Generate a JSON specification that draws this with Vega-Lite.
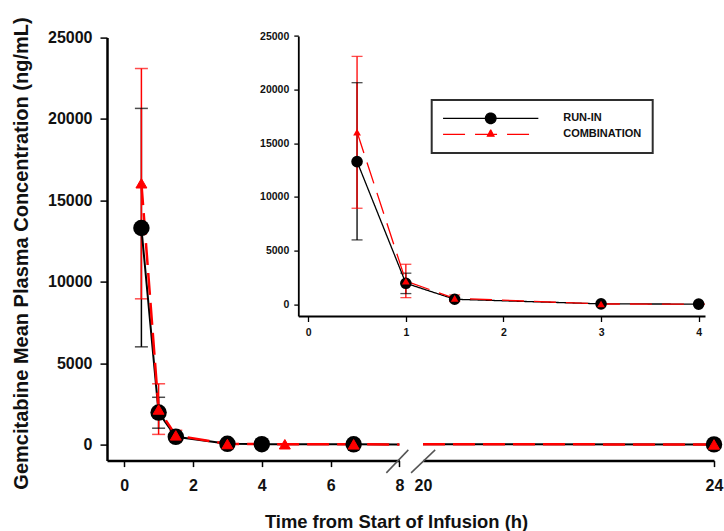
{
  "$schema": "https://vega.github.io/schema/vega-lite/v6.json",
  "width": 607,
  "height": 423,
  "autosize": {"type": "none"},
  "padding": {"left": 107, "top": 37.6, "right": 10, "bottom": 70.4},
  "background": "white",
  "config": {
    "font": "Liberation Sans",
    "view": {"stroke": null},
    "axis": {
      "grid": false,
      "labelFont": "Liberation Sans",
      "titleFont": "Liberation Sans",
      "labelFontWeight": "bold",
      "titleFontWeight": "bold",
      "labelColor": "#111111",
      "titleColor": "#111111",
      "domainColor": "#000000",
      "tickColor": "#000000",
      "labelFlush": false,
      "labelOverlap": false
    }
  },
  "data": {
    "values": [
      {"group": "RUN-IN", "time": 0.5, "conc": 13300, "lo": 6000, "hi": 20650},
      {"group": "RUN-IN", "time": 1, "conc": 1960, "lo": 1000, "hi": 2900},
      {"group": "RUN-IN", "time": 1.5, "conc": 470, "lo": 300, "hi": 640},
      {"group": "RUN-IN", "time": 3, "conc": 40},
      {"group": "RUN-IN", "time": 4, "conc": 20},
      {"group": "RUN-IN", "time": 6.67, "conc": 10},
      {"group": "RUN-IN", "time": 24, "conc": 5},
      {"group": "COMBINATION", "time": 0.5, "conc": 16050, "lo": 8950, "hi": 23100},
      {"group": "COMBINATION", "time": 1, "conc": 2150, "lo": 620, "hi": 3730},
      {"group": "COMBINATION", "time": 1.5, "conc": 560, "lo": 250, "hi": 870},
      {"group": "COMBINATION", "time": 3, "conc": 30},
      {"group": "COMBINATION", "time": 4.67, "conc": 15},
      {"group": "COMBINATION", "time": 6.67, "conc": 10},
      {"group": "COMBINATION", "time": 24, "conc": 5}
    ]
  },
  "layer": [
    {
      "encoding": {
        "x": {
          "field": "time", "type": "quantitative",
          "scale": {"domain": [-0.5, 8], "range": [0, 292.4], "clamp": true, "nice": false, "zero": false},
          "axis": {
            "orient": "bottom", "values": [0, 2, 4, 6, 8], "format": "d",
            "title": "Time from Start of Infusion (h)", "titleFontSize": 18.4,
            "titleX": 289, "titleY": 67, "titleBaseline": "alphabetic", "titleAlign": "center", "titleAnchor": null,
            "labelFontSize": 16, "labelPadding": 11, "tickSize": 6, "tickWidth": 1.5, "domainWidth": 2.5
          }
        },
        "y": {
          "field": "conc", "type": "quantitative",
          "scale": {"domain": [-990, 25000], "range": [423, 0], "nice": false, "zero": false},
          "axis": {
            "orient": "left", "values": [0, 5000, 10000, 15000, 20000, 25000], "format": "d",
            "title": "Gemcitabine Mean Plasma Concentration (ng/mL)", "titleFontSize": 20,
            "titleX": -79.5, "titleY": 215.4, "titleBaseline": "alphabetic", "titleAlign": "center", "titleAngle": -90,
            "labelFontSize": 16, "labelPadding": 8, "tickSize": 7, "tickWidth": 1.5, "domainWidth": 2.5
          }
        }
      },
      "layer": [
        {
          "transform": [{"filter": "datum.group === 'RUN-IN' && isValid(datum.hi)"}],
          "mark": {"type": "rule", "strokeWidth": 1.5, "color": "#000000"},
          "encoding": {"y2": {"field": "lo"}}
        },
        {
          "transform": [{"filter": "datum.group === 'RUN-IN' && isValid(datum.hi)"}],
          "mark": {"type": "rule", "strokeWidth": 1.5, "color": "#000000"},
          "encoding": {"y2": {"field": "hi"}}
        },
        {
          "transform": [{"filter": "datum.group === 'COMBINATION' && isValid(datum.hi)"}],
          "mark": {"type": "rule", "strokeWidth": 1.5, "color": "#ff0000"},
          "encoding": {"y2": {"field": "lo"}}
        },
        {
          "transform": [{"filter": "datum.group === 'COMBINATION' && isValid(datum.hi)"}],
          "mark": {"type": "rule", "strokeWidth": 1.5, "color": "#ff0000"},
          "encoding": {"y2": {"field": "hi"}}
        },
        {
          "transform": [{"filter": "datum.group === 'RUN-IN' && isValid(datum.hi)"}],
          "mark": {"type": "tick", "orient": "horizontal", "size": 13, "thickness": 1.5, "color": "#000000"},
          "encoding": {"y": {"field": "hi", "type": "quantitative", "scale": {"domain": [-990, 25000], "range": [423, 0], "nice": false, "zero": false}, "axis": {"orient": "left", "values": [0, 5000, 10000, 15000, 20000, 25000], "format": "d", "title": "Gemcitabine Mean Plasma Concentration (ng/mL)", "titleFontSize": 20, "titleX": -79.5, "titleY": 215.4, "titleBaseline": "alphabetic", "titleAlign": "center", "titleAngle": -90, "labelFontSize": 16, "labelPadding": 8, "tickSize": 7, "tickWidth": 1.5, "domainWidth": 2.5}}}
        },
        {
          "transform": [{"filter": "datum.group === 'RUN-IN' && isValid(datum.hi)"}],
          "mark": {"type": "tick", "orient": "horizontal", "size": 13, "thickness": 1.5, "color": "#000000"},
          "encoding": {"y": {"field": "lo", "type": "quantitative", "scale": {"domain": [-990, 25000], "range": [423, 0], "nice": false, "zero": false}, "axis": {"orient": "left", "values": [0, 5000, 10000, 15000, 20000, 25000], "format": "d", "title": "Gemcitabine Mean Plasma Concentration (ng/mL)", "titleFontSize": 20, "titleX": -79.5, "titleY": 215.4, "titleBaseline": "alphabetic", "titleAlign": "center", "titleAngle": -90, "labelFontSize": 16, "labelPadding": 8, "tickSize": 7, "tickWidth": 1.5, "domainWidth": 2.5}}}
        },
        {
          "transform": [{"filter": "datum.group === 'COMBINATION' && isValid(datum.hi)"}],
          "mark": {"type": "tick", "orient": "horizontal", "size": 13, "thickness": 1.5, "color": "#ff0000"},
          "encoding": {"y": {"field": "hi", "type": "quantitative", "scale": {"domain": [-990, 25000], "range": [423, 0], "nice": false, "zero": false}, "axis": {"orient": "left", "values": [0, 5000, 10000, 15000, 20000, 25000], "format": "d", "title": "Gemcitabine Mean Plasma Concentration (ng/mL)", "titleFontSize": 20, "titleX": -79.5, "titleY": 215.4, "titleBaseline": "alphabetic", "titleAlign": "center", "titleAngle": -90, "labelFontSize": 16, "labelPadding": 8, "tickSize": 7, "tickWidth": 1.5, "domainWidth": 2.5}}}
        },
        {
          "transform": [{"filter": "datum.group === 'COMBINATION' && isValid(datum.hi)"}],
          "mark": {"type": "tick", "orient": "horizontal", "size": 13, "thickness": 1.5, "color": "#ff0000"},
          "encoding": {"y": {"field": "lo", "type": "quantitative", "scale": {"domain": [-990, 25000], "range": [423, 0], "nice": false, "zero": false}, "axis": {"orient": "left", "values": [0, 5000, 10000, 15000, 20000, 25000], "format": "d", "title": "Gemcitabine Mean Plasma Concentration (ng/mL)", "titleFontSize": 20, "titleX": -79.5, "titleY": 215.4, "titleBaseline": "alphabetic", "titleAlign": "center", "titleAngle": -90, "labelFontSize": 16, "labelPadding": 8, "tickSize": 7, "tickWidth": 1.5, "domainWidth": 2.5}}}
        },
        {
          "transform": [{"filter": "datum.group === 'RUN-IN'"}],
          "mark": {"type": "line", "color": "#000000", "strokeWidth": 2}
        },
        {
          "transform": [{"filter": "datum.group === 'COMBINATION'"}],
          "mark": {"type": "line", "color": "#ff0000", "strokeWidth": 2.5, "strokeDash": [22, 8]}
        },
        {
          "transform": [{"filter": "datum.group === 'RUN-IN' && datum.time <= 8"}],
          "mark": {"type": "point", "shape": "circle", "filled": true, "color": "#000000", "size": 270, "opacity": 1}
        },
        {
          "transform": [{"filter": "datum.group === 'COMBINATION' && datum.time <= 8"}],
          "mark": {"type": "point", "shape": "triangle-up", "filled": true, "color": "#ff0000", "stroke": "#ff0000", "strokeWidth": 1, "size": 120, "opacity": 1}
        }
      ]
    },
    {
      "encoding": {
        "x": {
          "field": "time", "type": "quantitative",
          "scale": {"domain": [20, 24], "range": [316, 607], "clamp": true, "nice": false, "zero": false},
          "axis": {
            "orient": "bottom", "values": [20, 24], "format": "d", "title": null,
            "labelFontSize": 16, "labelPadding": 11, "tickSize": 6, "tickWidth": 1.5, "domainWidth": 2.5,
            "tickOpacity": {"condition": {"test": "datum.value === 20", "value": 0}, "value": 1}
          }
        },
        "y": {"field": "conc", "type": "quantitative", "scale": {"domain": [-990, 25000], "range": [423, 0], "nice": false, "zero": false}, "axis": null}
      },
      "layer": [
        {
          "transform": [{"filter": "datum.group === 'RUN-IN' && datum.time > 6"}],
          "mark": {"type": "line", "color": "#000000", "strokeWidth": 2}
        },
        {
          "transform": [{"filter": "datum.group === 'COMBINATION' && datum.time > 6"}],
          "mark": {"type": "line", "color": "#ff0000", "strokeWidth": 2.5, "strokeDash": [22, 8]}
        },
        {
          "transform": [{"filter": "datum.group === 'RUN-IN' && datum.time >= 20"}],
          "mark": {"type": "point", "shape": "circle", "filled": true, "color": "#000000", "size": 270, "opacity": 1}
        },
        {
          "transform": [{"filter": "datum.group === 'COMBINATION' && datum.time >= 20"}],
          "mark": {"type": "point", "shape": "triangle-up", "filled": true, "color": "#ff0000", "stroke": "#ff0000", "strokeWidth": 1, "size": 120, "opacity": 1}
        }
      ]
    },
    {
      "encoding": {
        "x": {
          "field": "time", "type": "quantitative",
          "scale": {"domain": [-0.102, 4.065], "range": [191.3, 598], "clamp": true, "nice": false, "zero": false},
          "axis": {
            "orient": "bottom", "offset": -144.6, "values": [0, 1, 2, 3, 4], "format": "d", "title": null,
            "labelFontSize": 10.5, "labelPadding": 6, "tickSize": 5.5, "tickWidth": 1.3, "domainWidth": 1.8
          }
        },
        "y": {
          "field": "conc", "type": "quantitative",
          "scale": {"domain": [-1090, 25000], "range": [278.4, -1.6], "nice": false, "zero": false},
          "axis": {
            "orient": "left", "offset": -191.3, "values": [0, 5000, 10000, 15000, 20000, 25000], "format": "d", "title": null,
            "labelFontSize": 10.5, "labelPadding": 5, "tickSize": 4.5, "tickWidth": 1.3, "domainWidth": 1.8
          }
        }
      },
      "layer": [
        {
          "transform": [{"filter": "datum.group === 'RUN-IN' && isValid(datum.hi)"}],
          "mark": {"type": "rule", "strokeWidth": 1.3, "color": "#000000"},
          "encoding": {"y2": {"field": "lo"}}
        },
        {
          "transform": [{"filter": "datum.group === 'RUN-IN' && isValid(datum.hi)"}],
          "mark": {"type": "rule", "strokeWidth": 1.3, "color": "#000000"},
          "encoding": {"y2": {"field": "hi"}}
        },
        {
          "transform": [{"filter": "datum.group === 'COMBINATION' && isValid(datum.hi)"}],
          "mark": {"type": "rule", "strokeWidth": 1.3, "color": "#ff0000"},
          "encoding": {"y2": {"field": "lo"}}
        },
        {
          "transform": [{"filter": "datum.group === 'COMBINATION' && isValid(datum.hi)"}],
          "mark": {"type": "rule", "strokeWidth": 1.3, "color": "#ff0000"},
          "encoding": {"y2": {"field": "hi"}}
        },
        {
          "transform": [{"filter": "datum.group === 'RUN-IN' && isValid(datum.hi)"}],
          "mark": {"type": "tick", "orient": "horizontal", "size": 11, "thickness": 1.3, "color": "#000000"},
          "encoding": {"y": {"field": "hi", "type": "quantitative", "scale": {"domain": [-1090, 25000], "range": [278.4, -1.6], "nice": false, "zero": false}, "axis": {"orient": "left", "offset": -191.3, "values": [0, 5000, 10000, 15000, 20000, 25000], "format": "d", "title": null, "labelFontSize": 10.5, "labelPadding": 5, "tickSize": 4.5, "tickWidth": 1.3, "domainWidth": 1.8}}}
        },
        {
          "transform": [{"filter": "datum.group === 'RUN-IN' && isValid(datum.hi)"}],
          "mark": {"type": "tick", "orient": "horizontal", "size": 11, "thickness": 1.3, "color": "#000000"},
          "encoding": {"y": {"field": "lo", "type": "quantitative", "scale": {"domain": [-1090, 25000], "range": [278.4, -1.6], "nice": false, "zero": false}, "axis": {"orient": "left", "offset": -191.3, "values": [0, 5000, 10000, 15000, 20000, 25000], "format": "d", "title": null, "labelFontSize": 10.5, "labelPadding": 5, "tickSize": 4.5, "tickWidth": 1.3, "domainWidth": 1.8}}}
        },
        {
          "transform": [{"filter": "datum.group === 'COMBINATION' && isValid(datum.hi)"}],
          "mark": {"type": "tick", "orient": "horizontal", "size": 11, "thickness": 1.3, "color": "#ff0000"},
          "encoding": {"y": {"field": "hi", "type": "quantitative", "scale": {"domain": [-1090, 25000], "range": [278.4, -1.6], "nice": false, "zero": false}, "axis": {"orient": "left", "offset": -191.3, "values": [0, 5000, 10000, 15000, 20000, 25000], "format": "d", "title": null, "labelFontSize": 10.5, "labelPadding": 5, "tickSize": 4.5, "tickWidth": 1.3, "domainWidth": 1.8}}}
        },
        {
          "transform": [{"filter": "datum.group === 'COMBINATION' && isValid(datum.hi)"}],
          "mark": {"type": "tick", "orient": "horizontal", "size": 11, "thickness": 1.3, "color": "#ff0000"},
          "encoding": {"y": {"field": "lo", "type": "quantitative", "scale": {"domain": [-1090, 25000], "range": [278.4, -1.6], "nice": false, "zero": false}, "axis": {"orient": "left", "offset": -191.3, "values": [0, 5000, 10000, 15000, 20000, 25000], "format": "d", "title": null, "labelFontSize": 10.5, "labelPadding": 5, "tickSize": 4.5, "tickWidth": 1.3, "domainWidth": 1.8}}}
        },
        {
          "transform": [{"filter": "datum.time <= 5"}],
          "mark": {"type": "line", "strokeWidth": 1.3},
          "encoding": {
            "color": {
              "field": "group", "type": "nominal",
              "scale": {"domain": ["RUN-IN", "COMBINATION"], "range": ["#000000", "#ff0000"]},
              "legend": {
                "orient": "none", "legendX": 324.7, "legendY": 62.4, "title": null, "direction": "vertical",
                "padding": 10.5, "strokeColor": "#2e2e2e", "fillColor": "#ffffff",
                "clipHeight": 15.7, "rowPadding": 0, "symbolSize": 9082, "symbolStrokeWidth": 1.2,
                "symbolOffset": 0, "labelOffset": 24,
                "labelFont": "Liberation Sans", "labelFontWeight": "bold", "labelFontSize": 11, "labelColor": "#111111",
                "encode": {
                  "legend": {"update": {"strokeWidth": {"value": 2}}},
                  "symbols": {
                    "update": {
                      "shape": {"signal": "datum.value === 'RUN-IN' ? 'M-1,0H1M-0.112,0A0.112,0.112 0 1,1 0.112,0A0.112,0.112 0 1,1 -0.112,0Z' : 'M-1,0H1M0,-0.095L0.07,0.04L-0.07,0.04Z'"},
                      "fill": {"signal": "datum.value === 'RUN-IN' ? '#000000' : '#ff0000'"}
                    }
                  }
                }
              }
            },
            "strokeDash": {
              "field": "group", "type": "nominal",
              "scale": {"domain": ["RUN-IN", "COMBINATION"], "range": [[1, 0], [22, 10]]}
            }
          }
        },
        {
          "transform": [{"filter": "datum.group === 'RUN-IN' && datum.time <= 4.1"}],
          "mark": {"type": "point", "shape": "circle", "filled": true, "color": "#000000", "size": 135, "opacity": 1}
        },
        {
          "transform": [{"filter": "datum.group === 'COMBINATION' && datum.time <= 4.1"}],
          "mark": {"type": "point", "shape": "triangle-up", "filled": true, "color": "#ff0000", "size": 60, "opacity": 1}
        }
      ]
    },
    {
      "data": {"values": [{}]},
      "encoding": {
        "x": {"datum": 7.62, "type": "quantitative", "scale": {"domain": [-0.5, 8], "range": [0, 292.4], "nice": false, "zero": false}, "axis": null},
        "y": {"datum": -1745, "type": "quantitative", "scale": {"domain": [-990, 25000], "range": [423, 0], "nice": false, "zero": false}, "axis": null},
        "y2": {"datum": -330}
      },
      "layer": [
        {
          "mark": {"type": "rule", "color": "#555555", "strokeWidth": 1.5},
          "encoding": {"x2": {"datum": 8.26}}
        },
        {
          "mark": {"type": "rule", "color": "#555555", "strokeWidth": 1.5},
          "encoding": {
            "x": {"datum": 8.34, "type": "quantitative", "scale": {"domain": [-0.5, 8], "range": [0, 292.4], "nice": false, "zero": false}, "axis": null},
            "x2": {"datum": 9.04}
          }
        }
      ]
    }
  ],
  "resolve": {
    "scale": {"x": "independent", "y": "independent"},
    "axis": {"x": "independent", "y": "independent"}
  }
}
